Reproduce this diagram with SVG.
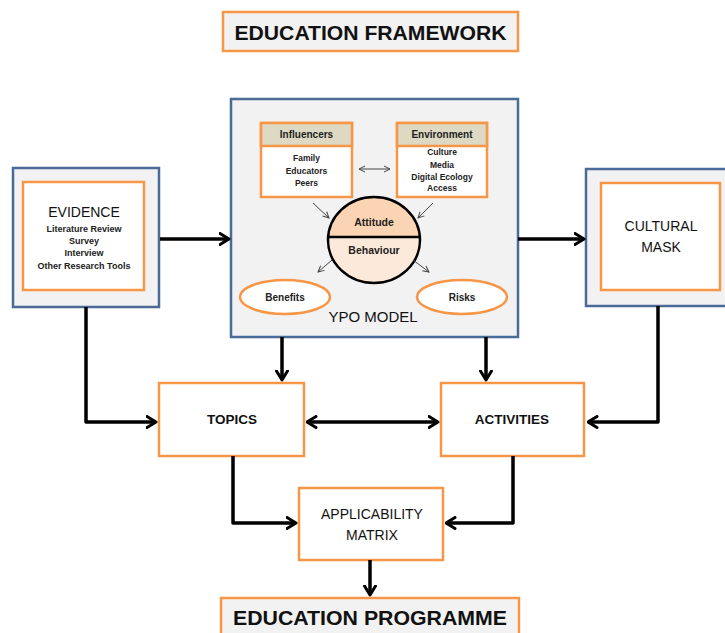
<svg xmlns="http://www.w3.org/2000/svg" width="725" height="633" viewBox="0 0 725 633">
<style>
text{font-family:"Liberation Sans",Arial,sans-serif;fill:#111;text-anchor:middle;dominant-baseline:central}
.outer{fill:#f2f2f2;stroke:#4a6a98;stroke-width:2.5}
.org{fill:#fff;stroke:#f79646;stroke-width:2.5}
.orgg{fill:#f2f2f2;stroke:#f79646;stroke-width:2.5}
.hdr{fill:#ddd9c3;stroke:#f79646;stroke-width:2.5}
.big{font-size:21px;font-weight:bold}
.mid{font-size:14px}
.midb{font-size:13.5px;font-weight:bold}
.sm{font-size:8.5px;font-weight:bold;fill:#222}
.hd{font-size:10px;font-weight:bold;fill:#222}
.conn{fill:none;stroke:#000;stroke-width:3.5;stroke-linejoin:round}
.thin{fill:none;stroke:#444;stroke-width:1}
</style>
<defs>
<marker id="ah" viewBox="0 0 12 14" refX="10.5" refY="7" markerWidth="12" markerHeight="14" markerUnits="userSpaceOnUse" orient="auto-start-reverse">
<path d="M1.5,1.5 L10.5,7 L1.5,12.5" fill="none" stroke="#000" stroke-width="3" stroke-linecap="round" stroke-linejoin="round"/>
</marker>
<marker id="sa" viewBox="0 0 8 8" refX="7" refY="4" markerWidth="8" markerHeight="8" markerUnits="userSpaceOnUse" orient="auto-start-reverse">
<path d="M1,1 L7,4 L1,7" fill="none" stroke="#444" stroke-width="1"/>
</marker>
</defs>

<g id="title">
<rect class="orgg" x="223" y="12" width="295" height="39"/>
<text class="big" x="370.5" y="32" textLength="272" lengthAdjust="spacingAndGlyphs">EDUCATION FRAMEWORK</text>
</g>

<g id="evidence">
<rect class="outer" x="13" y="168" width="146" height="139"/>
<rect class="org" x="23" y="182" width="121" height="108"/>
<text class="mid" x="84" y="212">EVIDENCE</text>
<text class="sm" x="84" y="229" style="font-size:9px">Literature Review</text>
<text class="sm" x="84" y="241" style="font-size:9px">Survey</text>
<text class="sm" x="84" y="253" style="font-size:9px">Interview</text>
<text class="sm" x="84" y="266" style="font-size:9px">Other Research Tools</text>
</g>

<g id="ypo-model">
<rect class="outer" x="231" y="99" width="287" height="238"/>
<g id="influencers">
<rect class="org" x="261" y="123" width="91" height="74"/>
<rect class="hdr" x="261" y="123" width="91" height="23"/>
<text class="hd" x="306.5" y="134.5">Influencers</text>
<text class="sm" x="306.5" y="158">Family</text>
<text class="sm" x="306.5" y="171">Educators</text>
<text class="sm" x="306.5" y="183">Peers</text>
</g>
<g id="environment">
<rect class="org" x="397" y="123" width="90" height="74"/>
<rect class="hdr" x="397" y="123" width="90" height="23"/>
<text class="hd" x="442" y="134.5">Environment</text>
<text class="sm" x="442" y="152">Culture</text>
<text class="sm" x="442" y="165">Media</text>
<text class="sm" x="442" y="177">Digital Ecology</text>
<text class="sm" x="442" y="188">Access</text>
</g>
<g id="attitude-behaviour">
<path d="M328.1,237 A46,43 0 0 1 419.9,237 Z" fill="#fbd4b4"/>
<path d="M328.1,237 A46,43 0 1 0 419.9,237 Z" fill="#fde9d9"/>
<ellipse cx="374" cy="240" rx="46" ry="43" fill="none" stroke="#000" stroke-width="2.5"/>
<line x1="328" y1="237" x2="420" y2="237" stroke="#000" stroke-width="2.5"/>
<text class="hd" x="374" y="222" style="font-size:10.5px">Attitude</text>
<text class="hd" x="374" y="249.5" style="font-size:10.5px">Behaviour</text>
</g>
<g id="benefits">
<ellipse cx="285" cy="297" rx="45" ry="17" fill="#fff" stroke="#f79646" stroke-width="2.5"/>
<text class="hd" x="285" y="297">Benefits</text>
</g>
<g id="risks">
<ellipse cx="462" cy="297" rx="45" ry="17" fill="#fff" stroke="#f79646" stroke-width="2.5"/>
<text class="hd" x="462" y="297">Risks</text>
</g>
<text class="mid" x="373" y="316" style="font-size:15px">YPO MODEL</text>
<g id="inner-connectors">
<line class="thin" x1="359" y1="169" x2="390" y2="169" marker-start="url(#sa)" marker-end="url(#sa)"/>
<line class="thin" x1="313" y1="203" x2="329" y2="218" marker-end="url(#sa)"/>
<line class="thin" x1="433" y1="203" x2="418" y2="218" marker-end="url(#sa)"/>
<line class="thin" x1="332" y1="260" x2="318" y2="272" marker-end="url(#sa)"/>
<line class="thin" x1="413" y1="260" x2="429" y2="272" marker-end="url(#sa)"/>
</g>
</g>

<g id="cultural-mask">
<rect class="outer" x="586" y="169" width="160" height="137"/>
<rect class="org" x="601" y="183" width="119" height="107"/>
<text class="mid" x="661" y="226">CULTURAL</text>
<text class="mid" x="661" y="247">MASK</text>
</g>

<g id="topics">
<rect class="org" x="159" y="383" width="145" height="73"/>
<text class="midb" x="232" y="419">TOPICS</text>
</g>

<g id="activities">
<rect class="org" x="441" y="383" width="143" height="73"/>
<text class="midb" x="512" y="419">ACTIVITIES</text>
</g>

<g id="applicability-matrix">
<rect class="org" x="299" y="488" width="144" height="72"/>
<text class="mid" x="372" y="514">APPLICABILITY</text>
<text class="mid" x="372" y="535">MATRIX</text>
</g>

<g id="programme">
<rect class="orgg" x="221" y="598" width="298" height="45"/>
<text class="big" x="370" y="617" textLength="274" lengthAdjust="spacingAndGlyphs">EDUCATION PROGRAMME</text>
</g>

<g id="connectors">
<path class="conn" d="M160,239 L229,239" marker-end="url(#ah)"/>
<path class="conn" d="M518,239 L584,239" marker-end="url(#ah)"/>
<path class="conn" d="M86,307 L86,422 L156,422" marker-end="url(#ah)"/>
<path class="conn" d="M658,306 L658,422 L588,422" marker-end="url(#ah)"/>
<path class="conn" d="M282,337 L282,380" marker-end="url(#ah)"/>
<path class="conn" d="M486,337 L486,380" marker-end="url(#ah)"/>
<path class="conn" d="M307,422 L438,422" marker-start="url(#ah)" marker-end="url(#ah)"/>
<path class="conn" d="M233,456 L233,523 L296,523" marker-end="url(#ah)"/>
<path class="conn" d="M513,456 L513,523 L446,523" marker-end="url(#ah)"/>
<path class="conn" d="M370,560 L370,595" marker-end="url(#ah)"/>
</g>
</svg>
